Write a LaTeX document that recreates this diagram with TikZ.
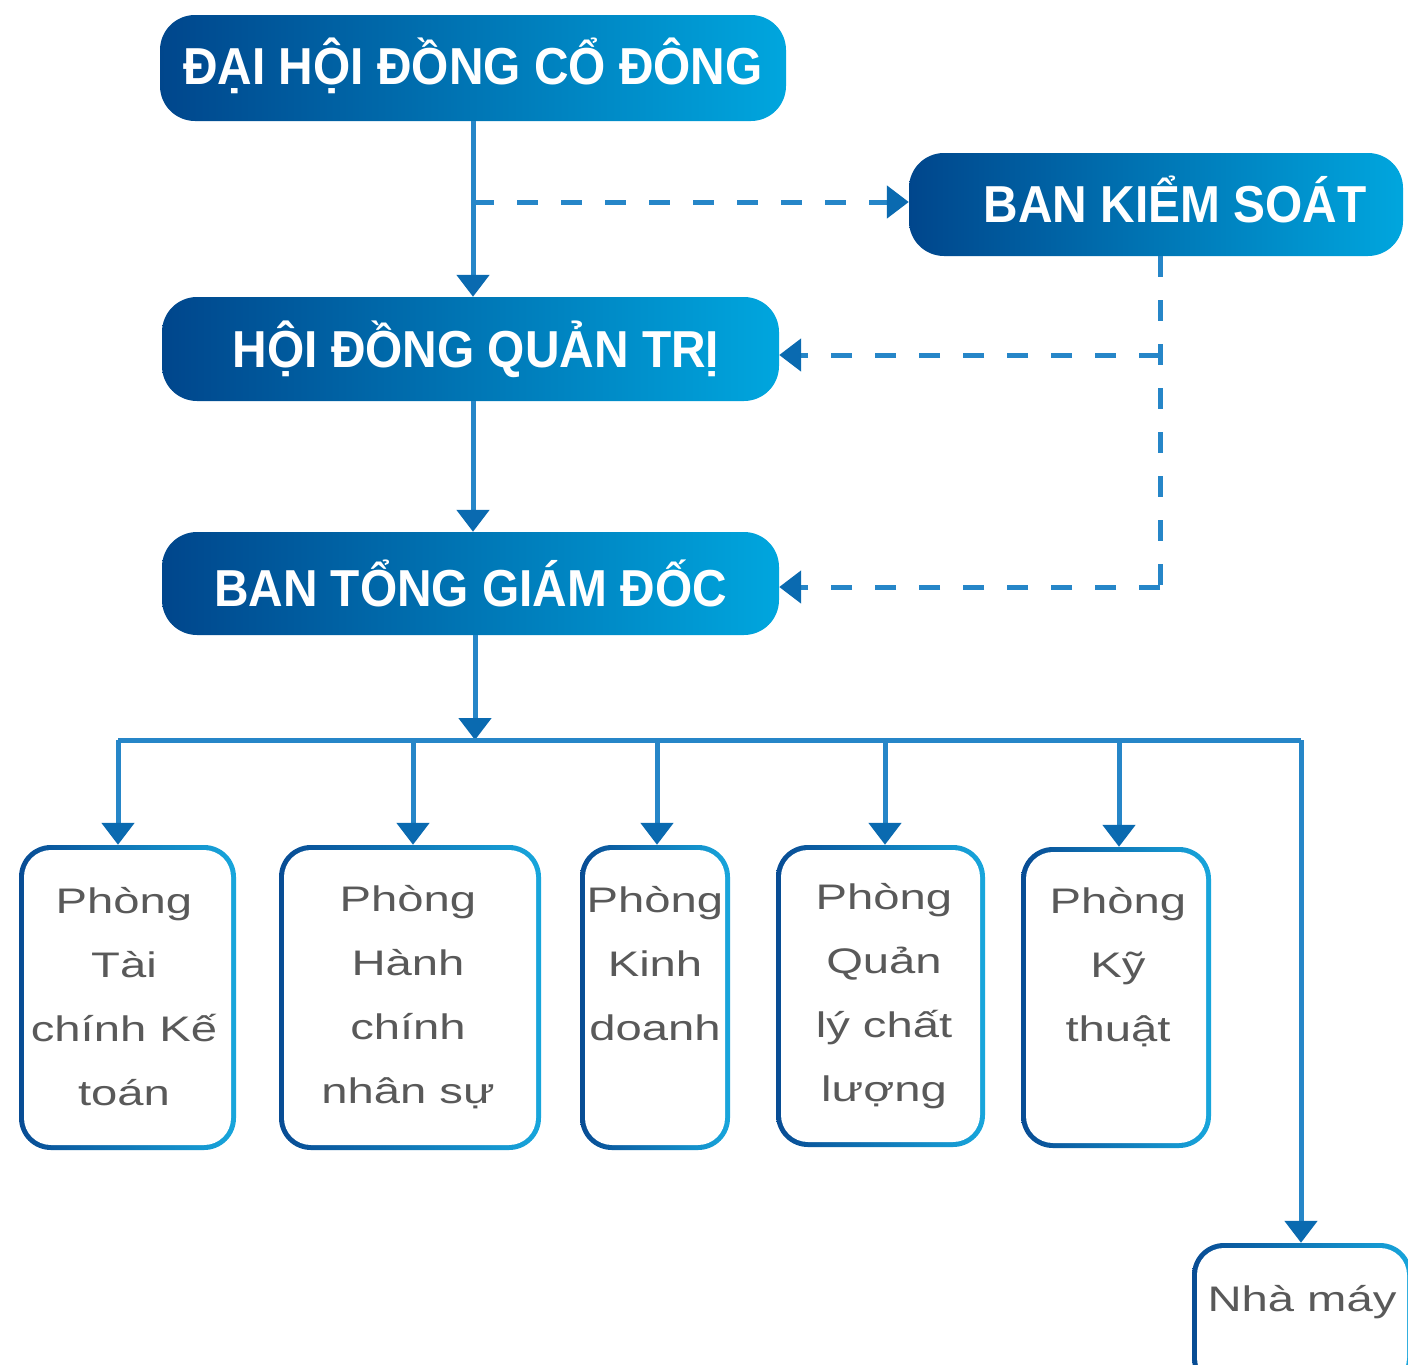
\documentclass[tikz,border=0pt]{standalone}
\usepackage{fontspec}
\setmainfont{Liberation Sans}
\newfontfamily\hdfont{Liberation Sans}[FakeStretch=0.92]
\newfontfamily\bdfont{Liberation Sans}[FakeStretch=1.33]
\usetikzlibrary{arrows.meta}
\definecolor{hdark}{RGB}{0,70,140}
\definecolor{hlight}{RGB}{0,166,222}
\definecolor{bdark}{RGB}{8,76,148}
\definecolor{blight}{RGB}{24,166,220}
\definecolor{linec}{RGB}{38,134,200}
\definecolor{arrowc}{RGB}{10,106,176}
\definecolor{txtgray}{RGB}{89,89,89}
\tikzset{
  headbox/.style={rounded corners=35pt, left color=hdark, right color=hlight, inner sep=0pt,
    text=white, font={\hdfont\bfseries\fontsize{52}{60}\selectfont}},
  subbox/.style={rounded corners=32pt, left color=bdark, right color=blight, inner sep=0pt,
    align=center, text=txtgray, font={\bdfont\fontsize{35.5}{64}\selectfont},
    path picture={\fill[white, rounded corners=27pt]
      ([shift={(5pt,-5pt)}]path picture bounding box.north west) rectangle
      ([shift={(-5pt,5pt)}]path picture bounding box.south east);}},
  conn/.style={draw=linec, line width=5pt},
  dashconn/.style={conn, dash pattern=on 21pt off 23pt},
  tip/.style={-{Triangle[width=32pt,length=22pt,color=arrowc]}}
}
\begin{document}
\begin{tikzpicture}[x=1pt,y=-1pt]
\useasboundingbox (0,0) rectangle (1408,1365);
\fill[white] (0,0) rectangle (1408,1365);

% top level boxes
\node[headbox, minimum width=626pt, minimum height=106pt] (dh) at (473,68) {\raisebox{13pt}{ĐẠI HỘI ĐỒNG CỔ ĐÔNG}};
\node[headbox, minimum width=494pt, minimum height=103pt] (bks) at (1156,204.5) {\hspace*{38pt}\raisebox{11pt}{BAN KIỂM SOÁT}};
\node[headbox, minimum width=617pt, minimum height=104pt] (hd) at (470.5,349) {\hspace*{11pt}\raisebox{-1pt}{HỘI ĐỒNG QUẢN TRỊ}};
\node[headbox, minimum width=617pt, minimum height=103pt] (tg) at (470.5,583.5) {BAN TỔNG GIÁM ĐỐC};

% sub boxes
\node[subbox, minimum width=217pt, minimum height=305pt] (b1) at (127.5,997.5) {\raisebox{3pt}{\hspace*{-7pt}Phòng}\\\raisebox{3pt}{\hspace*{-7pt}Tài}\\\raisebox{3pt}{\hspace*{-7pt}chính Kế}\\\raisebox{3pt}{\hspace*{-7pt}toán}};
\node[subbox, minimum width=262pt, minimum height=305pt] (b2) at (410,997.5) {\hspace*{-4pt}Phòng\\\hspace*{-4pt}Hành\\\hspace*{-4pt}chính\\\hspace*{-4pt}nhân sự};
\node[subbox, minimum width=150pt, minimum height=305pt] (b3) at (655,997.5) {\raisebox{4pt}{Phòng}\\\raisebox{4pt}{Kinh}\\\raisebox{4pt}{doanh}\\\mbox{}};
\node[subbox, minimum width=209pt, minimum height=302pt] (b4) at (880.5,996) {\hspace*{7pt}Phòng\\\hspace*{7pt}Quản\\\hspace*{7pt}lý chất\\\hspace*{7pt}lượng};
\node[subbox, minimum width=190pt, minimum height=301pt] (b5) at (1116,997.5) {\hspace*{4pt}\raisebox{3pt}{Phòng}\\\hspace*{4pt}\raisebox{3pt}{Kỹ}\\\hspace*{4pt}\raisebox{3pt}{thuật}\\\mbox{}};
\node[subbox, minimum width=220pt, minimum height=147pt] (nm) at (1302,1316.5) {\raisebox{37pt}{Nhà máy}};

% connectors
\coordinate (j1) at (473,202);
\draw[conn, tip] (dh.south) -- (dh.south |- hd.north);
\draw[dashconn, tip] (j1) -- (bks.west |- j1);
\draw[conn, tip] (dh.south |- hd.south) -- (dh.south |- tg.north);

\coordinate (kx) at (1160,355);
\coordinate (ky) at (1160,587);
\draw[dashconn] (bks.south -| kx) -- (ky);
\draw[dashconn, tip] (ky) -- (tg.east |- ky);
\draw[dashconn, tip] (kx) -- (hd.east |- kx);

\coordinate (bus) at (475,740);
\coordinate (busL) at (118,740);
\coordinate (busR) at (1301,740);
\draw[conn, tip] (tg.south -| bus) -- (bus);
\draw[conn] (busL) -- (busR);
\draw[conn, tip] (busL) -- (busL |- b1.north);
\draw[conn, tip] (413,740) -- (413,0 |- b2.north);
\draw[conn, tip] (657,740) -- (657,0 |- b3.north);
\draw[conn, tip] (885,740) -- (885,0 |- b4.north);
\draw[conn, tip] (1119,740) -- (1119,0 |- b5.north);
\draw[conn, tip] (busR) -- (busR |- nm.north);
\end{tikzpicture}
\end{document}
